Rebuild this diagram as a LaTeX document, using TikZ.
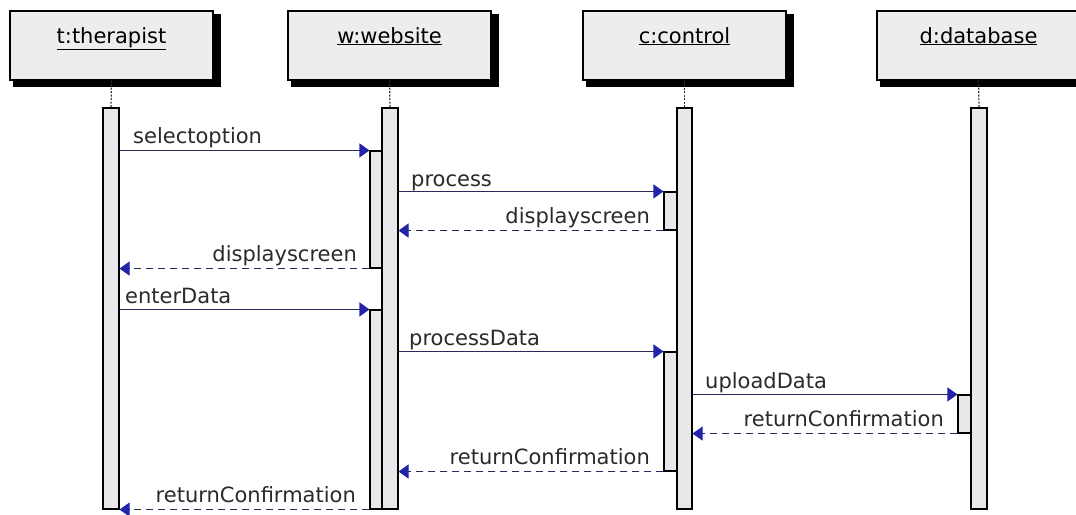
\documentclass[tikz,border=0pt]{standalone}
\usepackage{fontspec}
\setmainfont{DejaVu Sans}
\usetikzlibrary{arrows.meta}
\definecolor{boxfill}{HTML}{EDEDED}
\definecolor{barfill}{HTML}{E8E8EA}
\definecolor{tipblue}{HTML}{2424A8}
\definecolor{linecol}{HTML}{2A2A5A}
\definecolor{textcol}{HTML}{2A2A2A}
\tikzset{
  header/.style={draw=black, line width=1.2pt, fill=boxfill, minimum width=203pt, minimum height=69pt, inner sep=0pt},
  bar/.style={draw=black, line width=1.1pt, fill=barfill, minimum width=#1, inner sep=0pt},
  lifeline/.style={black!80, line width=1.2pt, dash pattern=on 2pt off 1.5pt},
  msg/.style={linecol, line width=1.1pt, -{Triangle[length=10pt,width=14pt,fill=tipblue,color=tipblue]}},
  ret/.style={msg, dash pattern=on 7pt off 5pt},
  lbl/.style={font=\fontsize{21}{21}\selectfont, text=textcol, inner sep=0pt},
  title/.style={font=\fontsize{21}{21}\selectfont, text=black}
}
\begin{document}
\begin{tikzpicture}[x=1pt,y=-1pt]
\useasboundingbox (0,0) rectangle (1076,514);
\fill[white] (0,0) rectangle (1076,514);
% headers with shadows
\foreach \cx in {111.5,389.5,684.5,978.5}{
  \fill[black] (\cx-101.5+3,11+3) rectangle (\cx+101.5+8,80+7);
}
\node[header] (hT) at (111.5,45.5) {};
\node[header] (hW) at (389.5,45.5) {};
\node[header] (hC) at (684.5,45.5) {};
\node[header] (hD) at (978.5,45.5) {};
\node[title, anchor=base] (tT) at (111.5,43) {\underline{t:therapist}};
\node[title, anchor=base] (tW) at (389.5,43) {\underline{w:website}};
\node[title, anchor=base] (tC) at (684.5,43) {\underline{c:control}};
\node[title, anchor=base] (tD) at (978.5,43) {\underline{d:database}};
% activation bars
\node[bar=16pt, minimum height=401pt] (aT) at (111,308.5) {};
\node[bar=16pt, minimum height=401pt] (aW) at (390,308.5) {};
\node[bar=15pt, minimum height=401pt] (aC) at (684.5,308.5) {};
\node[bar=16pt, minimum height=401pt] (aD) at (979,308.5) {};
% lifelines
\draw[lifeline] (hT.south) -- (aT.north);
\draw[lifeline] (hW.south) -- (aW.north);
\draw[lifeline] (hC.south) -- (aC.north);
\draw[lifeline] (hD.south) -- (aD.north);
% nested activations
\node[bar=12pt, minimum height=117pt] (wn1) at (376,209.5) {};
\node[bar=13pt, minimum height=38pt] (cn1) at (670.5,211) {};
\node[bar=12pt, minimum height=199pt] (wn2) at (376,409.5) {};
\node[bar=13pt, minimum height=119pt] (cn2) at (670.5,411.5) {};
\node[bar=13pt, minimum height=38pt] (dn1) at (964.5,414) {};
% messages
\draw[msg] (aT.east |- wn1.north) -- (wn1.north west);
\node[lbl, anchor=base west] (l1) at (133,143) {selectoption};
\draw[msg] (aW.east |- cn1.north) -- (cn1.north west);
\node[lbl, anchor=base west] (l2) at (411,186) {process};
\draw[ret] (cn1.south west) -- (aW.east |- cn1.south);
\node[lbl, anchor=base east] (l3) at (650,223) {displayscreen};
\draw[ret] (wn1.south west) -- (aT.east |- wn1.south);
\node[lbl, anchor=base east] (l4) at (357,261) {displayscreen};
\draw[msg] (aT.east |- wn2.north) -- (wn2.north west);
\node[lbl, anchor=base west] (l5) at (125,303) {enterData};
\draw[msg] (aW.east |- cn2.north) -- (cn2.north west);
\node[lbl, anchor=base west] (l6) at (409,345) {processData};
\draw[msg] (aC.east |- dn1.north) -- (dn1.north west);
\node[lbl, anchor=base west] (l7) at (705,388) {uploadData};
\draw[ret] (dn1.south west) -- (aC.east |- dn1.south);
\node[lbl, anchor=base east] (l8) at (944,426) {returnConfirmation};
\draw[ret] (cn2.south west) -- (aW.east |- cn2.south);
\node[lbl, anchor=base east] (l9) at (650,464) {returnConfirmation};
\draw[ret] (wn2.south west) -- (aT.east |- wn2.south);
\node[lbl, anchor=base east] (l10) at (356,502) {returnConfirmation};
\end{tikzpicture}
\end{document}
